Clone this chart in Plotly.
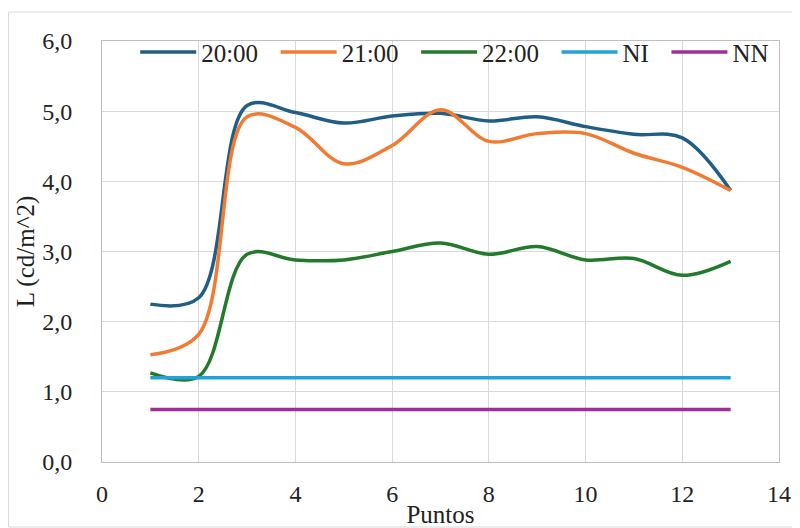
import plotly.graph_objects as go

puntos = [1, 2, 3, 4, 5, 6, 7, 8, 9, 10, 11, 12, 13]
s_2000 = [2.25, 2.34, 5.08, 4.98, 4.83, 4.93, 4.97, 4.86, 4.92, 4.78, 4.67, 4.62, 3.87]
s_2100 = [1.53, 1.82, 4.92, 4.77, 4.25, 4.51, 5.02, 4.57, 4.68, 4.68, 4.40, 4.20, 3.87]
s_2200 = [1.27, 1.22, 2.96, 2.88, 2.88, 3.00, 3.12, 2.96, 3.07, 2.88, 2.90, 2.66, 2.86]
s_ni = [1.20, 1.20, 1.20, 1.20, 1.20, 1.20, 1.20, 1.20, 1.20, 1.20, 1.20, 1.20, 1.20]
s_nn = [0.75, 0.75, 0.75, 0.75, 0.75, 0.75, 0.75, 0.75, 0.75, 0.75, 0.75, 0.75, 0.75]

names = ["20:00", "21:00", "22:00", "NI", "NN"]
series = [s_2000, s_2100, s_2200, s_ni, s_nn]
colors = ["#215E85", "#F27B34", "#247A2C", "#22A2DA", "#A02E9A"]

x_ticks = [0, 2, 4, 6, 8, 10, 12, 14]
y_ticks = [0, 1, 2, 3, 4, 5, 6]

FONT = "Liberation Serif, Times New Roman, serif"
PAD = "\u00a0\u00a0"  # legend spacing (non-breaking spaces)

# page body has an 8px margin: figure sized/placed to compensate
W, H = 792, 520
L, R, T, B = 94, 21, 33, 66
PW, PH = W - L - R, H - T - B

fig = go.Figure()
for name, ys, c in zip(names, series, colors):
    fig.add_trace(go.Scatter(
        x=puntos, y=ys, name=name + PAD, mode="lines",
        line=dict(color=c, width=3.5, shape="spline", smoothing=1.0),
    ))

fig.update_layout(
    width=W, height=H,
    margin=dict(l=L, r=R, t=T, b=B, autoexpand=False),
    paper_bgcolor="white", plot_bgcolor="white",
    font=dict(family=FONT, size=24, color="#222222"),
    separators=",.",
    showlegend=True,
    legend=dict(
        orientation="h", x=0.049, y=0.973, xanchor="left", yanchor="middle",
        bgcolor="rgba(0,0,0,0)", font=dict(family=FONT, size=25, color="#222222"),
        itemwidth=56, tracegroupgap=0,
    ),
    xaxis=dict(
        range=[0, 14], tickvals=x_ticks, ticktext=[str(v) for v in x_ticks],
        showgrid=True, gridcolor="#D9D9D9", gridwidth=1,
        showline=True, linecolor="#BFBFBF", linewidth=1, mirror=True,
        zeroline=False, automargin=False,
        ticks="outside", ticklen=10, tickcolor="rgba(0,0,0,0)",
        title=dict(text="Puntos", font=dict(family=FONT, size=25), standoff=0),
    ),
    yaxis=dict(
        range=[0, 6], tickvals=y_ticks, tickformat=".1f",
        showgrid=True, gridcolor="#D9D9D9", gridwidth=1,
        showline=True, linecolor="#BFBFBF", linewidth=1, mirror=True,
        zeroline=False, automargin=False,
        ticks="outside", ticklen=24, tickcolor="rgba(0,0,0,0)",
        title=dict(text="L (cd/m^2)", font=dict(family=FONT, size=25), standoff=0),
    ),
    shapes=[dict(
        type="rect", xref="paper", yref="paper",
        x0=-(L - 0.5) / PW, x1=(W - L - 0.5) / PW,
        y0=-(B - 1) / PH, y1=(PH + T - 4) / PH,
        line=dict(color="#D9D9D9", width=1), fillcolor="rgba(0,0,0,0)", layer="below",
    )],
)

fig.write_html("out.html")
